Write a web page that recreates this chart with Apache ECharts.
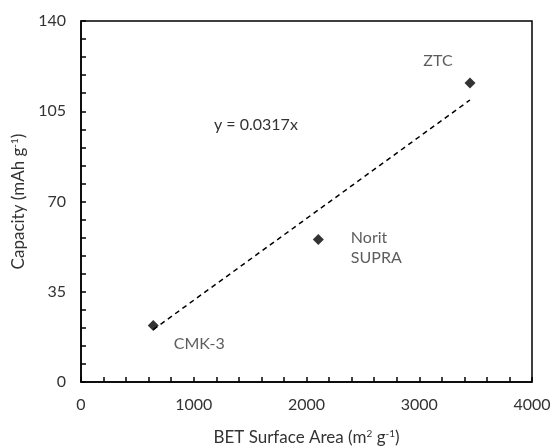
<!DOCTYPE html>
<html>
<head>
<meta charset="utf-8">
<script src="https://cdn.jsdelivr.net/npm/echarts@6/dist/echarts.min.js"></script>
<style>
  html, body { margin: 0; padding: 0; background: #fff; }
  #chart { width: 553px; height: 447px; }
</style>
</head>
<body>
<div id="chart"></div>
<script>
// samples: BET surface area (m2/g) vs capacity (mAh/g)
const names = ['CMK-3', 'Norit\nSUPRA', 'ZTC'];
const surfaceArea = [641, 2105, 3450];
const capacity = [21.9, 55.3, 116];
// linear fit through origin
const slope = 0.0317;
const fitX = [641, 3450];

const font = 'Lato, "Open Sans", sans-serif';
const textColor = '#333';

const chart = echarts.init(document.getElementById('chart'));

const points = surfaceArea.map((x, i) => ({
    value: [x, capacity[i]],
    name: names[i]
}));
// label offsets per point
const labelPos = [
    { position: 'right', offset: [10, 18] },
    { position: 'right', offset: [22, 8] },
    { position: 'top', offset: [-32, -2] }
];
points.forEach((p, i) => {
    p.label = Object.assign({ show: true }, labelPos[i]);
});

const supStyle = { fontSize: 10, verticalAlign: 'top', padding: [0, 0, 8, 0], color: textColor, fontFamily: font };

const option = {
    animation: false,
    grid: {
        left: 81, right: 21, top: 21, bottom: 65,
        outerBoundsMode: 'none',
        containLabel: false,
        show: true,
        borderColor: '#000',
        borderWidth: 1.5
    },
    xAxis: {
        type: 'value',
        min: 0, max: 4000, interval: 200,
        name: 'BET Surface Area (m{sup|2} g{sup|-1})',
        nameLocation: 'middle',
        nameGap: 47,
        nameTextStyle: { fontFamily: font, fontSize: 17, color: textColor, rich: { sup: supStyle } },
        axisLine: { lineStyle: { color: '#000', width: 1.5 } },
        axisTick: { inside: true, length: 5, lineStyle: { color: '#000', width: 1.5 } },
        axisLabel: {
            margin: 15, fontFamily: font, fontSize: 16, color: textColor,
            formatter: v => (v % 1000 === 0 ? String(v) : '')
        },
        splitLine: { show: false }
    },
    yAxis: {
        type: 'value',
        min: 0, max: 140, interval: 7,
        name: 'Capacity (mAh g{sup|-1})',
        nameLocation: 'middle',
        nameGap: 52,
        nameTextStyle: { fontFamily: font, fontSize: 17, color: textColor, rich: { sup: supStyle } },
        axisLine: { lineStyle: { color: '#000', width: 1.5 } },
        axisTick: { inside: true, length: 5, lineStyle: { color: '#000', width: 1.5 } },
        axisLabel: {
            margin: 15, fontFamily: font, fontSize: 16, color: textColor,
            formatter: v => (v % 35 === 0 ? String(v) : '')
        },
        splitLine: { show: false }
    },
    series: [
        {
            type: 'line',
            data: fitX.map(x => [x, slope * x]),
            showSymbol: false,
            lineStyle: { color: '#000', width: 1.5, type: [5, 4] },
            z: 2,
            silent: true
        },
        {
            type: 'scatter',
            data: points,
            symbol: 'diamond',
            symbolSize: [11, 11],
            itemStyle: { color: '#000' },
            label: {
                formatter: '{b}',
                fontFamily: font, fontSize: 16, color: textColor,
                lineHeight: 20
            },
            z: 3
        }
    ],
    graphic: [
        {
            type: 'text',
            left: 214, top: 117,
            style: { text: 'y = 0.0317x', font: '16px ' + font, fill: textColor }
        }
    ]
};

chart.setOption(option);
</script>
</body>
</html>
